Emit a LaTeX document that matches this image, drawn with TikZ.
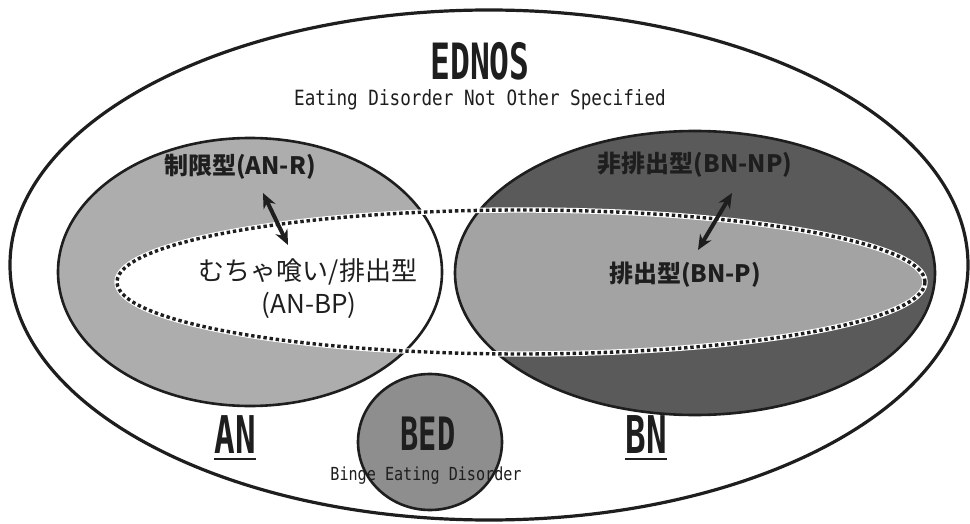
\documentclass[tikz,border=0pt]{standalone}
\usepackage{fontspec}
\usepackage{tikz}
\setmainfont{Noto Sans CJK JP}
\newfontfamily\jpfont{Noto Sans CJK JP}
\newfontfamily\tallfont[FakeStretch=0.66]{DejaVu Sans Mono}
\newfontfamily\typefont[FakeStretch=0.84]{DejaVu Sans Mono}
\usetikzlibrary{
  arrows.meta,
  positioning,
  calc
}
\definecolor{edAN}{HTML}{ADADAD}
\definecolor{edBN}{HTML}{5A5A5A}
\definecolor{edBNP}{HTML}{A3A3A3}
\definecolor{edBED}{HTML}{8E8E8E}
\definecolor{edInk}{HTML}{1E1E1E}
\tikzset{
  ringline/.style={draw=edInk, line width=3.2pt},
  setline/.style={draw=edInk, line width=2.6pt},
  dotline/.style={draw=edInk, line width=3.4pt, dash pattern=on 3.4pt off 2.8pt},
  dothalo/.style={draw=white, line width=5.4pt},
  swap/.style={{Stealth[length=15pt, width=13pt]}-{Stealth[length=15pt, width=13pt]}, line width=4pt, edInk},
  bigtag/.style={font={\tallfont\bfseries\fontsize{50pt}{52pt}\selectfont}, inner sep=0pt, anchor=base, text=edInk},
  settag/.style={font={\tallfont\bfseries\fontsize{52pt}{54pt}\selectfont}, inner sep=0pt, anchor=base, text=edInk},
  bedtag/.style={font={\tallfont\bfseries\fontsize{46pt}{48pt}\selectfont}, inner sep=0pt, anchor=base, text=edInk},
  fulltag/.style={font={\typefont\fontsize{21pt}{23pt}\selectfont}, inner sep=0pt, anchor=base, text=edInk},
  smalltag/.style={font={\typefont\fontsize{18pt}{20pt}\selectfont}, inner sep=0pt, anchor=base, text=edInk},
  typetag/.style={font={\jpfont\bfseries\fontsize{24pt}{26pt}\selectfont}, inner sep=0pt, text=edInk},
  mixtag/.style={font={\jpfont\fontsize{26pt}{28pt}\selectfont}, inner sep=0pt, text=edInk},
  underbar/.style={draw=edInk, line width=2pt}
}

\begin{document}
\begin{tikzpicture}[x=1pt, y=-1pt]
  \useasboundingbox (0,0) rectangle (970,524);
  \coordinate (out-c) at (489,265);
  \coordinate (an-c) at (250,272);
  \coordinate (bn-c) at (695,273);
  \coordinate (bp-c) at (521,282);
  \coordinate (bed-c) at (430,442);

  \draw[ringline, fill=white] (out-c) ellipse [x radius=479pt, y radius=255pt];
  \fill[edAN] (an-c) ellipse [x radius=192pt, y radius=134pt];
  \fill[edBN] (bn-c) ellipse [x radius=240pt, y radius=142pt];
  \fill[white] (bp-c) ellipse [x radius=404pt, y radius=72pt];
  \begin{scope}
    \clip (bp-c) ellipse [x radius=404pt, y radius=72pt];
    \fill[edBNP] (bn-c) ellipse [x radius=240pt, y radius=142pt];
  \end{scope}
  \draw[setline] (an-c) ellipse [x radius=192pt, y radius=134pt];
  \draw[setline] (bn-c) ellipse [x radius=240pt, y radius=142pt];
  \draw[dothalo] (bp-c) ellipse [x radius=404pt, y radius=72pt];
  \draw[dotline] (bp-c) ellipse [x radius=404pt, y radius=72pt];
  \draw[setline, fill=edBED] (bed-c) ellipse [x radius=72pt, y radius=68pt];

  \node[bigtag] (ednos) at (480,80) {EDNOS};
  \node[fulltag] (ednos-full) at (480,106) {Eating Disorder Not Other Specified};

  \node[typetag] (anr) at (240,167) {制限型(AN-R)};
  \node[mixtag] (anbp) at (308,272) {むちゃ喰い/排出型};
  \node[mixtag] (anbp-code) at (309,305) {(AN-BP)};
  \node[typetag] (bnnp) at (695,165) {非排出型(BN-NP)};
  \node[typetag] (bnp) at (685,275) {排出型(BN-P)};

  \coordinate (anr-tip) at (263,193);
  \coordinate (anbp-tip) at (288,245);
  \coordinate (bnnp-tip) at (732,193);
  \coordinate (bnp-tip) at (698,250);
  \draw[swap] (anr-tip) -- (anbp-tip);
  \draw[swap] (bnnp-tip) -- (bnp-tip);

  \node[settag] (an) at (235,453) {AN};
  \node[settag] (bn) at (646,453) {BN};
  \draw[underbar] ([yshift=-6pt]an.base west) -- ([yshift=-6pt]an.base east);
  \draw[underbar] ([yshift=-6pt]bn.base west) -- ([yshift=-6pt]bn.base east);
  \node[bedtag] (bed) at (428,450) {BED};
  \node[smalltag] (bed-full) at (426,480) {Binge Eating Disorder};
\end{tikzpicture}
\end{document}
